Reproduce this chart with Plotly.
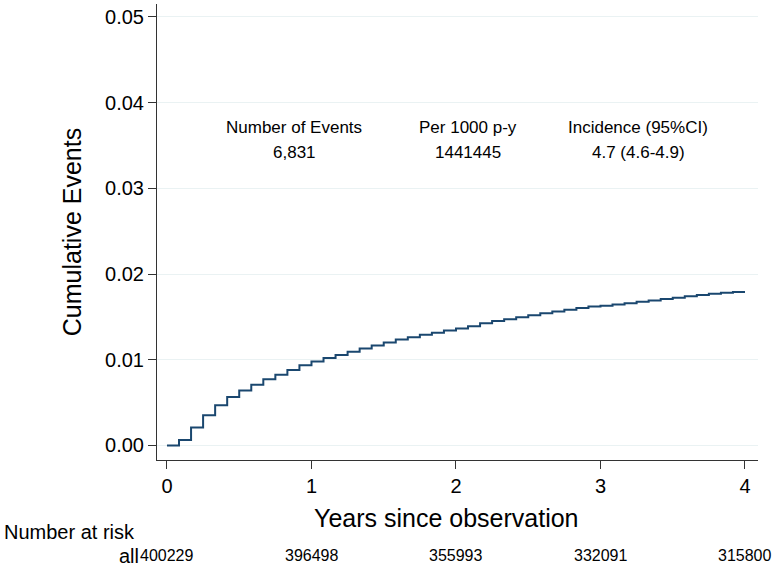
import plotly.graph_objects as go

# Monthly step levels of cumulative events (month k covers [k/12, (k+1)/12))
months = list(range(0, 49))
cum_events = [
    0.0, 0.00062, 0.0021, 0.00352, 0.00469, 0.00566, 0.0064, 0.00709,
    0.00771, 0.00825, 0.00879, 0.00934, 0.0098, 0.01019, 0.01054, 0.01092,
    0.01131, 0.01166, 0.01201, 0.01236, 0.01263, 0.01291, 0.01314, 0.0134,
    0.01364, 0.01391, 0.01424, 0.01451, 0.01473, 0.01496, 0.01519, 0.01542,
    0.01562, 0.01582, 0.01602, 0.0162, 0.0163, 0.01645, 0.0166, 0.01675,
    0.0169, 0.01708, 0.01724, 0.0174, 0.01755, 0.0177, 0.01782, 0.0179,
    0.0179,
]

y_ticks = [0.00, 0.01, 0.02, 0.03, 0.04, 0.05]
x_ticks = [0, 1, 2, 3, 4]
risk_years = [0, 1, 2, 3, 4]
at_risk = [400229, 396498, 355993, 332091, 315800]

stat_headers = ["Number of Events", "Per 1000 p-y", "Incidence (95%CI)"]
stat_values = ["6,831", "1441445", "4.7 (4.6-4.9)"]
stat_xpos = [0.88, 2.08, 3.26]

years = [m / 12 for m in months]

FONT = "Liberation Sans, Arial, Helvetica, sans-serif"
W, H = 776, 568
ML, MR, MT, MB = 157, 18, 4, 108
plot_w = W - ML - MR
plot_h = H - MT - MB


def ypix(py):
    return (H - MB - py) / plot_h


def xpix(px):
    return (px - ML) / plot_w


fig = go.Figure()
fig.add_trace(go.Scatter(
    x=years, y=cum_events, mode="lines", line_shape="hv",
    line=dict(color="#1a476f", width=2), showlegend=False, hoverinfo="skip",
))

for xh, h, v in zip(stat_xpos, stat_headers, stat_values):
    fig.add_annotation(x=xh, y=ypix(128), xref="x", yref="paper", text=h,
                       showarrow=False, font=dict(size=17, color="black"),
                       xanchor="center", yanchor="middle")
    fig.add_annotation(x=xh, y=ypix(152), xref="x", yref="paper", text=v,
                       showarrow=False, font=dict(size=17, color="black"),
                       xanchor="center", yanchor="middle")

# x-axis title (slightly left of plot centre, as in the reference)
fig.add_annotation(x=xpix(446), y=ypix(518), xref="paper", yref="paper",
                   text="Years since observation", showarrow=False,
                   xanchor="center", yanchor="middle",
                   font=dict(size=25, color="black"))

fig.add_annotation(x=xpix(2), y=ypix(532), xref="paper", yref="paper",
                   text="Number at risk", showarrow=False, xanchor="left",
                   yanchor="middle", font=dict(size=20, color="black"))
fig.add_annotation(x=xpix(141), y=ypix(556), xref="paper", yref="paper",
                   text="all", showarrow=False, xanchor="right",
                   yanchor="middle", font=dict(size=20, color="black"))
for xr, n in zip(risk_years, at_risk):
    fig.add_annotation(x=xr, y=ypix(555), xref="x", yref="paper",
                       text=str(n), showarrow=False, xanchor="center",
                       yanchor="middle", font=dict(size=16, color="black"))

fig.update_layout(
    width=W, height=H,
    margin=dict(l=ML, r=MR, t=MT, b=MB),
    paper_bgcolor="white", plot_bgcolor="white",
    font=dict(family=FONT, color="black"),
    xaxis=dict(
        range=[-0.069, 4.09], tickvals=x_ticks, ticktext=[str(t) for t in x_ticks],
        ticks="outside", ticklen=8, tickcolor="#333", tickwidth=1,
        showline=True, linecolor="#333", linewidth=1, showgrid=False,
        zeroline=False, tickfont=dict(size=20),
    ),
    yaxis=dict(
        range=[-0.0017, 0.0515], tickvals=y_ticks, tickformat=".2f",
        ticks="outside", ticklen=8, tickcolor="#333", tickwidth=1,
        showline=True, linecolor="#333", linewidth=1,
        showgrid=True, gridcolor="#eaf2f3", gridwidth=1,
        zeroline=False, tickfont=dict(size=20),
        title=dict(text="Cumulative Events", font=dict(size=25), standoff=16),
    ),
)

fig.write_html("out.html", config={"displayModeBar": False})

with open("out.html", "r", encoding="utf-8") as f:
    html = f.read()
html = html.replace("<head>", "<head><style>html,body{margin:0;padding:0;overflow:hidden;}</style>", 1)
with open("out.html", "w", encoding="utf-8") as f:
    f.write(html)
